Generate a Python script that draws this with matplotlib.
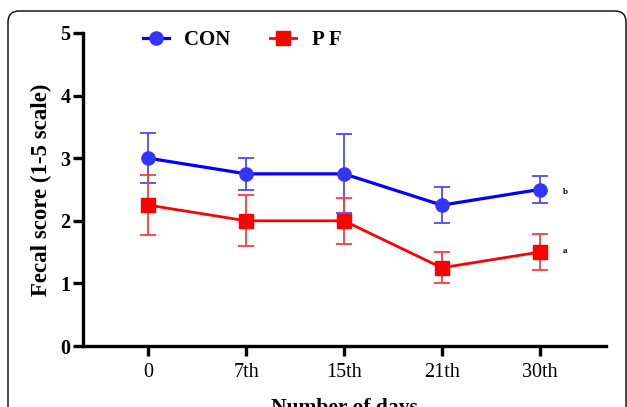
import matplotlib
matplotlib.use("Agg")
import matplotlib.pyplot as plt
import matplotlib.patches as mpatches
from matplotlib.transforms import IdentityTransform

plt.rcParams['font.family'] = ['Liberation Serif', 'DejaVu Serif']

# data
days = ['0', '7th', '15th', '21th', '30th']
con_mean = [3.0, 2.75, 2.75, 2.25, 2.5]
con_err = [0.40, 0.25, 0.63, 0.29, 0.21]
pf_mean = [2.25, 2.0, 2.0, 1.25, 1.5]
pf_err = [0.48, 0.41, 0.37, 0.25, 0.29]
letters = ['b', 'a']

x = list(range(len(days)))

fig = plt.figure(figsize=(6.27, 4.07), dpi=100)
ax = fig.add_axes([83/627, 61/407, 523/627, 313/407])

# rounded frame around the panel (pixel coords, bottom runs off the image)
frame = mpatches.FancyBboxPatch((8, -40), 618, 436,
                                boxstyle="round,pad=0,rounding_size=11",
                                transform=IdentityTransform(), fill=False,
                                edgecolor='black', linewidth=1.0)
fig.patches.append(frame)

ax.errorbar(x, con_mean, yerr=con_err, fmt='none', ecolor='#4a4aff',
            elinewidth=1.3, capsize=5.5, capthick=1.3, zorder=2)
ax.errorbar(x, pf_mean, yerr=pf_err, fmt='none', ecolor='#ff3a3a',
            elinewidth=1.3, capsize=5.5, capthick=1.3, zorder=2)
ax.plot(x, con_mean, color='#0000ff', linewidth=2.3, marker='o',
        markersize=9.5, markerfacecolor='#3434ff', markeredgecolor='#3434ff',
        label='CON', zorder=3)
ax.plot(x, pf_mean, color='#ff0000', linewidth=2.0, marker='s',
        markersize=9.5, markerfacecolor='#ff0000', markeredgecolor='#ff0000',
        label='P F', zorder=3)

ax.text(x[-1] + 0.24, con_mean[-1] - 0.04, letters[0], fontsize=6.5,
        fontweight='bold', va='center', ha='left')
ax.text(x[-1] + 0.24, pf_mean[-1] + 0.02, letters[1], fontsize=6.5,
        fontweight='bold', va='center', ha='left')

ax.set_xlim(-0.67, 4.68)
ax.set_ylim(0, 5)
ax.set_xticks(x)
ax.set_xticklabels(days, fontsize=14.5)
ax.set_yticks([0, 1, 2, 3, 4, 5])
ax.set_yticklabels(['0', '1', '2', '3', '4', '5'], fontsize=14.5, fontweight='bold')

for s in ['top', 'right']:
    ax.spines[s].set_visible(False)
for s in ['left', 'bottom']:
    ax.spines[s].set_linewidth(2.4)
ax.tick_params(width=2.4, length=7)
ax.tick_params(axis='x', pad=5)
ax.tick_params(axis='y', pad=2)

ax.set_ylabel('Fecal score (1-5 scale)', fontsize=16.5, fontweight='bold', labelpad=6)
ax.set_xlabel('Number of days', fontsize=15.5, fontweight='bold', labelpad=12)

ax.legend(loc='upper left', bbox_to_anchor=(0.078, 1.069), ncol=2, frameon=False,
          prop={'size': 15, 'weight': 'bold'}, handlelength=1.25,
          columnspacing=1.9, handletextpad=0.75)

fig.savefig('out.png', dpi=100)
